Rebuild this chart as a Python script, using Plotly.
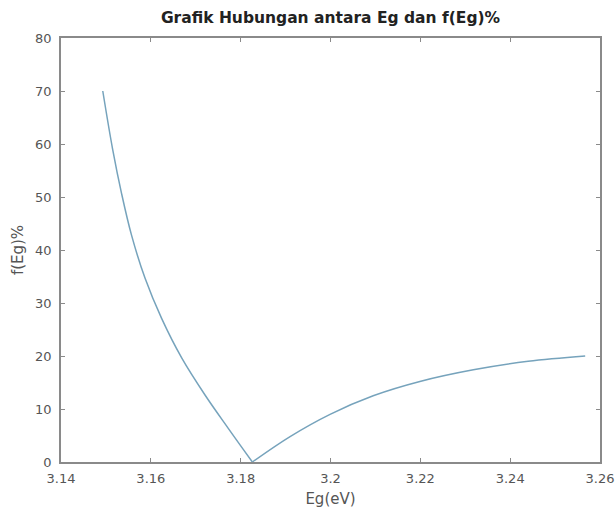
import plotly.graph_objects as go

# Values
eg_left = [3.1493, 3.1515, 3.1535, 3.1557, 3.1587, 3.1624, 3.1669, 3.1721, 3.1772, 3.1826]
f_left = [70.0, 59.0, 50.6, 42.8, 34.7, 27.1, 19.6, 12.6, 6.4, 0.0]
eg_right = [3.1826, 3.1910, 3.1999, 3.2095, 3.2199, 3.2318, 3.2440, 3.2567]
f_right = [0.0, 4.8, 9.0, 12.5, 15.2, 17.4, 19.0, 20.0]

x_tickvals = [3.14, 3.16, 3.18, 3.20, 3.22, 3.24, 3.26]
x_ticktext = ["3.14", "3.16", "3.18", "3.2", "3.22", "3.24", "3.26"]
y_tickvals = [0, 10, 20, 30, 40, 50, 60, 70, 80]

title_text = "Grafik Hubungan antara Eg dan f(Eg)%"
x_title = "Eg(eV)"
y_title = "f(Eg)%"

line_color = "#76a3bc"
axis_color = "#8a8a8a"
tick_font = dict(family="DejaVu Sans", size=13, color="#555555")

fig = go.Figure()
for xs, ys in ((eg_left, f_left), (eg_right, f_right)):
    fig.add_trace(go.Scatter(
        x=xs, y=ys, mode="lines",
        line=dict(color=line_color, width=1.5, shape="spline", smoothing=1.0),
        showlegend=False, hoverinfo="x+y",
    ))

axis_common = dict(
    showgrid=False, zeroline=False, automargin=False,
    showline=True, linecolor=axis_color, linewidth=1.5,
    mirror="ticks", ticks="inside", ticklen=4, tickcolor=axis_color,
    tickfont=tick_font,
)

fig.update_xaxes(
    range=[3.14, 3.26], tickvals=x_tickvals, ticktext=x_ticktext,
    title=dict(text=x_title, font=dict(family="DejaVu Sans", size=15, color="#555555"), standoff=9),
    ticklabelstandoff=4,
    **axis_common,
)
fig.update_yaxes(
    range=[0, 80], tickvals=y_tickvals,
    title=dict(text=y_title, font=dict(family="DejaVu Sans", size=15, color="#555555"), standoff=8),
    ticklabelstandoff=5,
    **axis_common,
)

fig.update_layout(
    width=616, height=508,
    margin=dict(l=61, r=16, t=38, b=46, autoexpand=False),
    paper_bgcolor="white", plot_bgcolor="white",
    title=dict(
        text="<b>" + title_text + "</b>",
        font=dict(family="DejaVu Sans", size=15.5, color="#222222"),
        x=(61 + 600) / 2 / 616, xanchor="center",
        y=1 - 18 / 508, yanchor="middle", yref="container", xref="container",
    ),
)

fig.write_html("out.html")
